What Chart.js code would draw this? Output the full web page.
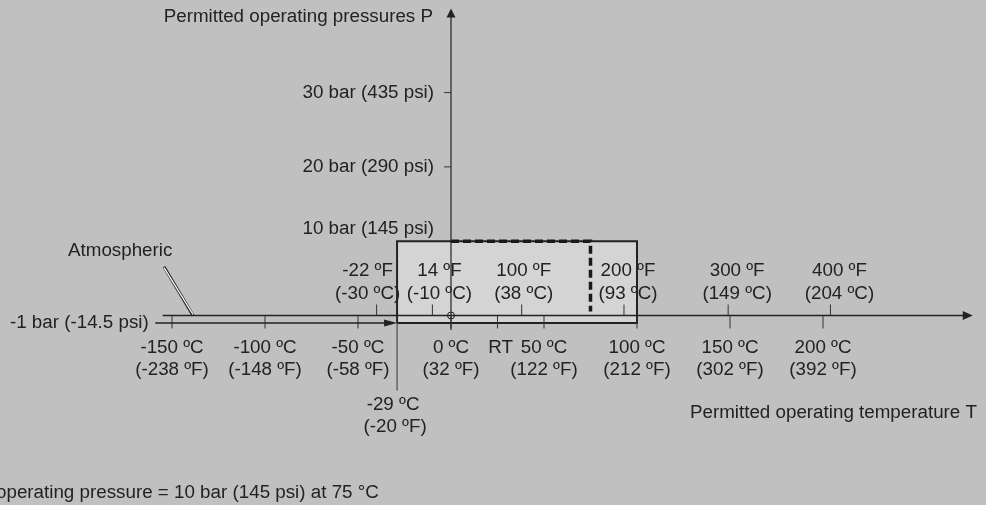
<!DOCTYPE html>
<html>
<head>
<meta charset="utf-8">
<script src="https://cdn.jsdelivr.net/npm/chart.js@4.4.1/dist/chart.umd.min.js"></script>
<style>
  html, body { margin: 0; padding: 0; background: #c0c0c0; }
  canvas { display: block; }
</style>
</head>
<body>
<canvas id="chart" width="986" height="505"></canvas>
<script>
  // ---------- data ----------
  const celsiusTicks = [-150, -100, -50, 0, 50, 100, 150, 200];
  const celsiusLabels = ['-150 ºC', '-100 ºC', '-50 ºC', '0 ºC', '50 ºC', '100 ºC', '150 ºC', '200 ºC'];
  const celsiusInF = ['(-238 ºF)', '(-148 ºF)', '(-58 ºF)', '(32 ºF)', '(122 ºF)', '(212 ºF)', '(302 ºF)', '(392 ºF)'];

  const fahrenheitTicks = [-40, -10, 38, 93, 149, 204]; // tick positions on the °C axis
  const fahrenheitLabels = ['-22 ºF', '14 ºF', '100 ºF', '200 ºF', '300 ºF', '400 ºF'];
  const fahrenheitInC = ['(-30 ºC)', '(-10 ºC)', '(38 ºC)', '(93 ºC)', '(149 ºC)', '(204 ºC)'];

  const pressureTicks = [20, 30];
  const pressureLabels = ['20 bar (290 psi)', '30 bar (435 psi)'];

  const tempRange = [-29, 100];      // °C
  const pressureRange = [-1, 10];    // bar
  const derating = [75, 10];         // 10 bar up to 75 °C
  const roomTemp = 25;

  // ---------- style ----------
  const ink = '#222';
  const font = '18.8px "Liberation Sans", Arial, sans-serif';
  const fNudge = [-9, 7, 2, 4, 9, 9]; // label offsets for the °F row (px)

  const rectPts = [
    { x: tempRange[0], y: pressureRange[0] },
    { x: tempRange[1], y: pressureRange[0] },
    { x: tempRange[1], y: pressureRange[1] },
    { x: tempRange[0], y: pressureRange[1] },
    { x: tempRange[0], y: pressureRange[0] }
  ];
  const deratePts = [
    { x: 0, y: derating[1] },
    { x: derating[0], y: derating[1] },
    { x: derating[0], y: 0.55 }
  ];

  const arrow = (ctx, x, y, dx, dy, len, half) => {
    // triangle with tip at (x,y) pointing along (dx,dy)
    ctx.beginPath();
    ctx.moveTo(x, y);
    ctx.lineTo(x - dx * len - dy * half, y - dy * len - dx * half);
    ctx.lineTo(x - dx * len + dy * half, y - dy * len + dx * half);
    ctx.closePath();
    ctx.fill();
  };

  const line = (ctx, x1, y1, x2, y2, w, color) => {
    ctx.beginPath();
    ctx.lineWidth = w;
    ctx.strokeStyle = color || ink;
    ctx.moveTo(x1, y1);
    ctx.lineTo(x2, y2);
    ctx.stroke();
  };

  const diagram = {
    id: 'diagram',
    beforeDraw(chart) {
      const { ctx, width, height } = chart;
      ctx.save();
      ctx.fillStyle = '#c0c0c0';
      ctx.fillRect(0, 0, width, height);
      ctx.restore();
    },
    afterDatasetsDraw(chart) {
      const { ctx, scales: { x, y } } = chart;
      const X = v => x.getPixelForValue(v);
      const Y = v => y.getPixelForValue(v);
      const x0 = X(0), y0 = Y(0);

      ctx.save();
      ctx.fillStyle = ink;

      // temperature axis
      line(ctx, X(-155), y0, X(278), y0, 1.5);
      arrow(ctx, X(280.5), y0, 1, 0, 10, 4.5);
      // pressure axis
      line(ctx, x0, Y(-1.95), x0, Y(40.5), 1.2);
      arrow(ctx, x0, Y(41.3), 0, -1, 9, 4.5);

      // ticks
      celsiusTicks.forEach(t => line(ctx, X(t), y0, X(t), y0 + 13, 1, '#333'));
      line(ctx, X(roomTemp), y0, X(roomTemp), y0 + 13, 1, '#333');
      line(ctx, X(tempRange[0]), y0, X(tempRange[0]), y0 + 75, 1, '#333');
      fahrenheitTicks.forEach(t => line(ctx, X(t), y0, X(t), y0 - 11, 1, '#333'));
      pressureTicks.forEach(p => line(ctx, x0 - 7, Y(p), x0, Y(p), 1, '#333'));

      // -1 bar line with arrow onto the range box
      line(ctx, X(-159), Y(-1), X(tempRange[0]) - 10, Y(-1), 1.5);
      arrow(ctx, X(tempRange[0]), Y(-1), 1, 0, 13, 3.5);

      // atmospheric leader
      const ax1 = X(-154.3), ay1 = Y(6.57), ax2 = X(-138.7), ay2 = y0;
      ctx.lineCap = 'butt';
      line(ctx, ax1, ay1, ax2, ay2, 3, ink);
      line(ctx, ax1, ay1 + 1, ax2, ay2 - 1, 1.3, '#fff');

      // labels
      ctx.font = font;
      ctx.fillStyle = ink;
      ctx.textBaseline = 'middle';
      ctx.textAlign = 'center';
      celsiusTicks.forEach((t, i) => {
        ctx.fillText(celsiusLabels[i], X(t), y0 + 32.5);
        ctx.fillText(celsiusInF[i], X(t), y0 + 54.5);
      });
      ctx.fillText('RT', X(roomTemp) + 3, y0 + 32.5);
      ctx.fillText('-29 ºC', X(tempRange[0]) - 4, y0 + 89.5);
      ctx.fillText('(-20 ºF)', X(tempRange[0]) - 2, y0 + 111.5);
      fahrenheitTicks.forEach((t, i) => {
        ctx.fillText(fahrenheitLabels[i], X(t) + fNudge[i], y0 - 44.5);
        ctx.fillText(fahrenheitInC[i], X(t) + fNudge[i], y0 - 21.5);
      });

      ctx.textAlign = 'right';
      pressureTicks.forEach((p, i) => ctx.fillText(pressureLabels[i], x0 - 17, Y(p)));
      ctx.fillText('10 bar (145 psi)', x0 - 17, Y(pressureRange[1]) - 12);
      ctx.fillText('-1 bar (-14.5 psi)', X(-162.5), Y(-1));
      ctx.fillText('Permitted operating pressures P', x0 - 18, 17);
      ctx.fillText('Permitted operating temperature T', 977, y0 + 97.5);

      // footnote, its start falls off the left edge
      ctx.textAlign = 'left';
      const note = 'Max. operating pressure = 10 bar (145 psi) at 75 °C';
      ctx.fillText(note, -4 - ctx.measureText('Max. ').width, 493);
      ctx.fillText('Atmospheric', 68, 251);
      ctx.restore();
    }
  };

  new Chart(document.getElementById('chart'), {
    type: 'scatter',
    data: {
      datasets: [
        {
          data: deratePts, showLine: true, borderColor: '#1a1a1a', borderWidth: 3.5,
          borderDash: [8, 4], pointRadius: 0, fill: false
        },
        {
          data: [{ x: 0, y: 0 }], pointRadius: 3.5, pointBorderWidth: 1,
          pointBorderColor: ink, pointBackgroundColor: 'rgba(0,0,0,0)', showLine: false
        },
        {
          data: rectPts, showLine: true, borderColor: ink, borderWidth: 2,
          backgroundColor: '#d4d4d4', fill: 'shape', pointRadius: 0, tension: 0
        }
      ]
    },
    options: {
      responsive: false,
      animation: false,
      events: [],
      layout: { padding: 0, autoPadding: false },
      plugins: { legend: { display: false }, tooltip: { enabled: false } },
      scales: {
        x: { type: 'linear', display: false, min: -242.47, max: 287.63 },
        y: { type: 'linear', display: false, min: -25.5, max: 42.46 }
      }
    },
    plugins: [diagram]
  });
</script>
</body>
</html>
